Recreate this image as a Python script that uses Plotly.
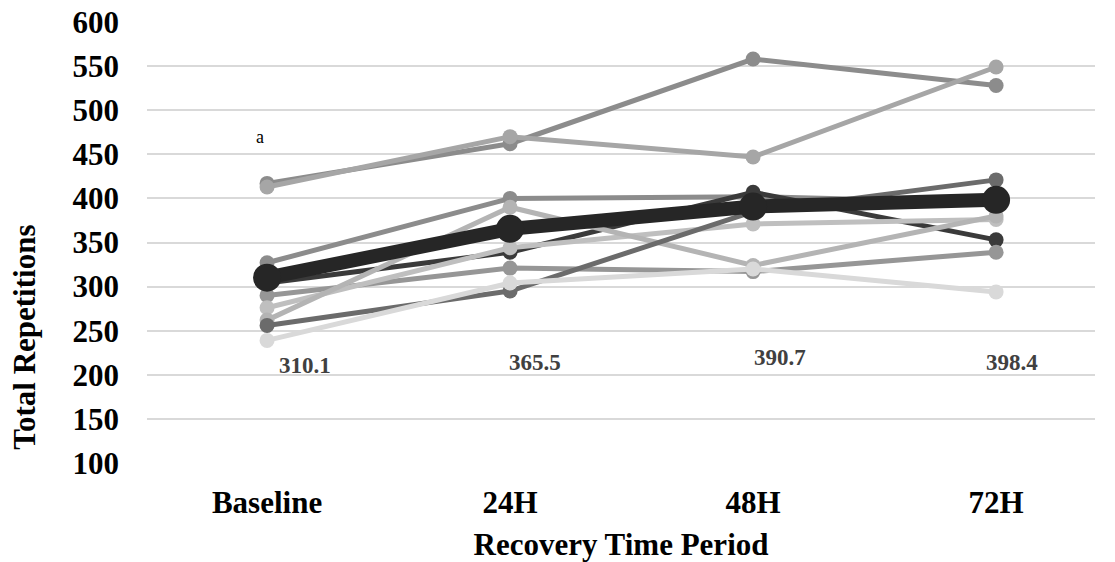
import plotly.graph_objects as go

categories = ["Baseline", "24H", "48H", "72H"]

subjects = [
    [417, 462, 558, 528],
    [413, 470, 447, 549],
    [327, 400, 402, 395],
    [304, 339, 407, 353],
    [290, 321, 317, 339],
    [276, 344, 371, 376],
    [262, 390, 324, 380],
    [256, 295, 385, 421],
    [239, 304, 320, 294],
]
subject_colors = ["#8c8c8c", "#a6a6a6", "#8c8c8c", "#3a3a3a", "#969696",
                  "#bfbfbf", "#b4b4b4", "#6b6b6b", "#d9d9d9"]

mean_values = [310.1, 365.5, 390.7, 398.4]
mean_labels = ["310.1", "365.5", "390.7", "398.4"]
label_y = [210, 214, 220, 214]
label_xshift = [38, 25, 27, 16]

FONT = "Liberation Serif"

fig = go.Figure()
for vals, col in zip(subjects, subject_colors):
    fig.add_trace(go.Scatter(
        x=categories, y=vals, mode="lines+markers",
        line=dict(color=col, width=5),
        marker=dict(color=col, size=15),
        showlegend=False, hoverinfo="skip"))

fig.add_trace(go.Scatter(
    x=categories, y=mean_values, mode="lines+markers",
    line=dict(color="#262626", width=14),
    marker=dict(color="#262626", size=28),
    showlegend=False))

for c, t, yv, xs in zip(categories, mean_labels, label_y, label_xshift):
    fig.add_annotation(x=c, y=yv, text=t, showarrow=False, xshift=xs,
                       font=dict(family=FONT, size=23, color="#404040", weight="bold"))

fig.add_annotation(x=categories[0], y=470, text="a", showarrow=False, xshift=-7,
                   font=dict(family=FONT, size=18, color="#000000"))

# y-axis title (placed off-centre as in the reference)
fig.add_annotation(xref="paper", yref="paper", x=-0.1287, y=0.286,
                   text="Total Repetitions", textangle=-90, showarrow=False,
                   xanchor="center", yanchor="middle",
                   font=dict(family=FONT, size=31, color="#000000", weight="bold"))

fig.update_layout(
    width=1115, height=562,
    margin=dict(l=147, r=20, t=22, b=99, autoexpand=False),
    plot_bgcolor="white", paper_bgcolor="white",
    xaxis=dict(
        type="category", range=[-0.494, 3.407], automargin=False,
        showgrid=False, zeroline=False, showline=False, ticks="",
        ticklabelstandoff=18,
        tickfont=dict(family=FONT, size=31, color="#000000", weight="bold"),
        title=dict(text="Recovery Time Period", standoff=17,
                   font=dict(family=FONT, size=31, color="#000000", weight="bold")),
    ),
    yaxis=dict(
        range=[100, 600], dtick=50, tick0=100, automargin=False,
        showgrid=True, gridcolor="#d9d9d9", gridwidth=1.5,
        zeroline=False, showline=False, ticks="",
        ticklabelstandoff=27,
        tickfont=dict(family=FONT, size=31, color="#000000", weight="bold"),
    ),
)

fig.write_html("out.html")
